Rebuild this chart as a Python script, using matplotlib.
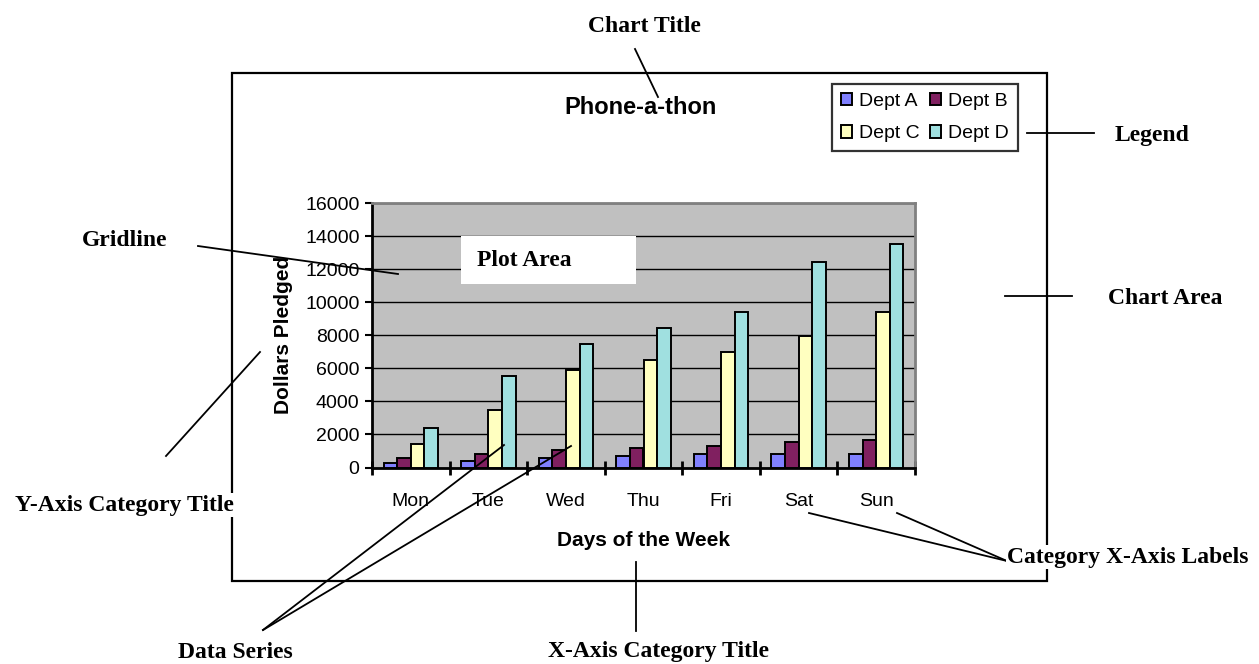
import matplotlib.pyplot as plt
from matplotlib.patches import Rectangle, Patch
import numpy as np

plt.rcParams["font.family"] = ["Liberation Sans", "DejaVu Sans"]

# data
days = ["Mon", "Tue", "Wed", "Thu", "Fri", "Sat", "Sun"]
dept_a = [300, 420, 560, 670, 800, 800, 800]
dept_b = [560, 800, 1030, 1150, 1300, 1530, 1650]
dept_c = [1400, 3480, 5900, 6500, 7000, 7950, 9400]
dept_d = [2380, 5520, 7480, 8440, 9400, 12450, 13520]
series_names = ["Dept A", "Dept B", "Dept C", "Dept D"]
colors = ["#8080FF", "#802060", "#FFFFC0", "#A0E0E0"]

W, H = 1259, 664
fig = plt.figure(figsize=(W / 100, H / 100), dpi=100)

# plot area (pixel box 372..915 x 203..467)
ax = fig.add_axes([372 / W, 1 - 467.5 / H, 543 / W, 264.5 / H])
ax.set_facecolor("#C0C0C0")
x = np.arange(len(days))
w = 0.175
for i, (vals, c) in enumerate(zip([dept_a, dept_b, dept_c, dept_d], colors)):
    ax.bar(x + (i - 1.5) * w, vals, w, color=c, edgecolor="black", linewidth=1.4,
           label=series_names[i], zorder=3)

ax.set_xlim(-0.5, len(days) - 0.5)
ax.set_ylim(0, 16000)
ax.set_yticks(np.arange(0, 16001, 2000))
ax.yaxis.grid(True, color="black", linewidth=1.0, zorder=1)
ax.set_axisbelow(True)
ax.set_xticks(x)
ax.set_xticklabels(days)
ax.set_xticks(np.arange(-0.5, len(days), 1), minor=True)
ax.tick_params(axis="x", which="major", length=0, labelsize=14, pad=18)
ax.tick_params(axis="x", which="minor", direction="inout", length=10, width=2)
ax.tick_params(axis="y", direction="out", length=5, width=1.5, labelsize=14, pad=4)
for s in ["left", "bottom"]:
    ax.spines[s].set_linewidth(2)
    ax.spines[s].set_color("black")
for s in ["top", "right"]:
    ax.spines[s].set_linewidth(2)
    ax.spines[s].set_color("#808080")

ax.set_ylabel("Dollars Pledged", fontsize=15, fontweight="bold", va="center")
ax.yaxis.set_label_coords((283 - 372) / 543, 0.5)
ax.set_xlabel("Days of the Week", fontsize=15, fontweight="bold", va="center")
ax.xaxis.set_label_coords(0.5, (467.5 - 541) / 264.5)

# legend fills column-wise, so reorder to get A B / C D rows
handles = [Patch(facecolor=c, edgecolor="black", linewidth=1.4) for c in colors]
order = [0, 2, 1, 3]
leg = fig.legend([handles[i] for i in order], [series_names[i] for i in order],
                 loc="upper left", ncol=2,
                 bbox_to_anchor=(832 / W, 1 - 84 / H), fontsize=14,
                 handlelength=0.6, handleheight=0.6, handletextpad=0.35,
                 columnspacing=0.5, labelspacing=0.8, borderpad=0.45,
                 frameon=True, fancybox=False, borderaxespad=0)
leg.get_frame().set_edgecolor("black")
leg.get_frame().set_linewidth(1.6)

# overlay in pixel coordinates for chart area and callouts
ov = fig.add_axes([0, 0, 1, 1])
ov.set_xlim(0, W)
ov.set_ylim(H, 0)
ov.axis("off")
ov.patch.set_alpha(0)

ov.add_patch(Rectangle((232, 73), 1047 - 232, 581 - 73, fill=False,
                       edgecolor="black", linewidth=1.6))
ov.text(641, 107, "Phone-a-thon", fontsize=17, fontweight="bold",
        ha="center", va="center")

ov.add_patch(Rectangle((461, 236), 175, 48, facecolor="white", edgecolor="none"))

serif = dict(family=["Liberation Serif", "DejaVu Serif"], fontsize=17,
             fontweight="bold", va="center")
box = dict(facecolor="white", edgecolor="none", pad=1)
ov.text(644, 26, "Chart Title", ha="center", **serif)
ov.text(1152, 135, "Legend", ha="center", **serif)
ov.text(1165, 298, "Chart Area", ha="center", **serif)
ov.text(125, 240, "Gridline", ha="center", **serif)
ov.text(477, 261, "Plot Area", ha="left", **serif)
ov.text(124, 505, "Y-Axis Category Title", ha="center", bbox=box, **serif)
ov.text(235, 652, "Data Series", ha="center", **serif)
ov.text(659, 652, "X-Axis Category Title", ha="center", **serif)
ov.text(1007, 557, "Category X-Axis Labels", ha="left", bbox=box, **serif)

callouts = [
    ((635, 49), (658, 97)),
    ((1027, 133), (1094, 133)),
    ((1005, 296), (1072, 296)),
    ((198, 246), (398, 274)),
    ((166, 456), (260, 352)),
    ((263, 630), (504, 445)),
    ((263, 630), (571, 446)),
    ((636, 562), (636, 631)),
    ((1007, 561), (809, 513)),
    ((1007, 561), (897, 513)),
]
for (x0, y0), (x1, y1) in callouts:
    ov.plot([x0, x1], [y0, y1], color="black", linewidth=1.3)

fig.savefig("out.png", dpi=100)
